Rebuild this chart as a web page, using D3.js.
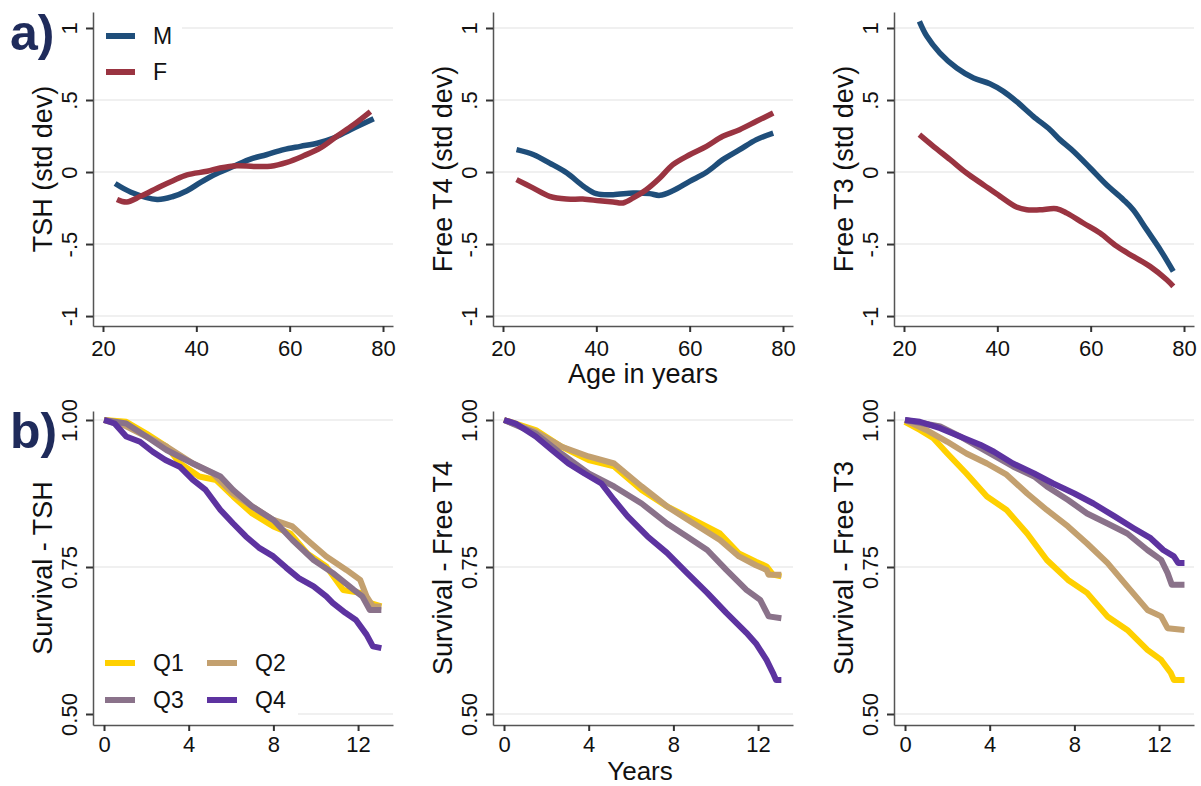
<!DOCTYPE html>
<html lang="en">
<head>
    <meta charset="UTF-8">
    <title>Thyroid function by age and survival</title>
    <script src="https://d3js.org/d3.v7.min.js"></script>
    <style>
        body { margin: 0; background: #fff; }
        svg { display: block; font-family: "Liberation Sans", Arial, Helvetica, sans-serif; }
        .grid line { stroke: #ebebeb; stroke-width: 1.5px; }
        .axis path { stroke: #555; stroke-width: 1.5px; }
        .axis line { stroke: #333; stroke-width: 2px; }
        .axis text { font-size: 22px; fill: #111; }
        .ylab, .xlab { font-size: 27px; fill: #111; }
        .xlab.years { font-size: 26px; }
        .tag { font-size: 50px; font-weight: bold; fill: #1f2b5b; }
        .leg text { font-size: 23px; fill: #111; }
    </style>
</head>
<body>
    <div id="chart"></div>
    <script>
        // ---- data ----
        const sexes = ["M", "F"];
        const sexColors = ["#1f4e7a", "#9a3441"];
        const quartiles = ["Q1", "Q2", "Q3", "Q4"];
        const qColors = ["#ffd000", "#c3a06f", "#8a728a", "#5d33a0"];

        const ageTicks = [20, 40, 60, 80];
        const sdTicks = [-1, -0.5, 0, 0.5, 1];
        const sdLabels = ["-1", "-.5", "0", ".5", "1"];
        const yearTicks = [0, 4, 8, 12];
        const survTicks = [0.5, 0.75, 1];
        const survLabels = ["0.50", "0.75", "1.00"];

        const topTitles = ["TSH (std dev)", "Free T4 (std dev)", "Free T3 (std dev)"];
        const bottomTitles = ["Survival - TSH", "Survival - Free T4", "Survival - Free T3"];

        // [age, std dev]
        const tshM = [[22.6,-0.08],[26,-0.14],[31.6,-0.19],[35,-0.17],[38,-0.13],[41,-0.07],[44.4,-0.01],[48,0.04],[51.6,0.09],[55,0.12],[58.7,0.155],[62.3,0.178],[65.9,0.2],[69.4,0.236],[73,0.294],[78,0.37]];
        const tshF = [[23,-0.19],[25.1,-0.208],[28,-0.169],[32.3,-0.1],[35,-0.06],[38,-0.02],[42.3,0.005],[45.1,0.028],[48.7,0.044],[52.3,0.039],[55.9,0.04],[59.4,0.067],[63,0.113],[66.6,0.167],[70.1,0.248],[73.7,0.329],[77.3,0.42]];
        const ft4M = [[22.9,0.155],[26.6,0.12],[30,0.062],[33.7,-0.007],[37.3,-0.1],[40,-0.15],[43.6,-0.157],[47.9,-0.146],[51.4,-0.15],[53.6,-0.162],[56.4,-0.13],[60,-0.065],[63.6,-0.002],[67.1,0.086],[70.7,0.155],[74.3,0.225],[77.9,0.27]];
        const ft4F = [[22.9,-0.053],[26.4,-0.11],[30,-0.169],[33.6,-0.188],[37.1,-0.188],[40.7,-0.2],[43.6,-0.208],[45.7,-0.215],[47.9,-0.18],[50.7,-0.123],[53.6,-0.042],[56.4,0.051],[60,0.12],[63.6,0.178],[67.1,0.248],[70.7,0.294],[74.3,0.352],[77.9,0.41]];
        const ft3M = [[23.3,1.046],[24.9,0.942],[27.7,0.826],[31.3,0.722],[34.9,0.653],[38.4,0.613],[41.3,0.56],[44.1,0.49],[47.7,0.387],[51.3,0.294],[53.4,0.225],[56.3,0.144],[59.9,0.028],[63.4,-0.088],[67,-0.192],[69.1,-0.262],[72,-0.4],[74.9,-0.539],[77.7,-0.69]];
        const ft3F = [[23.3,0.259],[26.3,0.178],[29.9,0.086],[33.4,-0.007],[37,-0.088],[40.6,-0.169],[44.1,-0.243],[46.3,-0.262],[49.1,-0.262],[52.7,-0.255],[54.9,-0.285],[58.4,-0.354],[62,-0.424],[65.6,-0.516],[69.1,-0.586],[72.7,-0.655],[76.3,-0.748],[77.7,-0.794]];

        // [years, survival]
        const tshQ1 = [[0,1],[1.05,0.997],[2,0.977],[2.95,0.955],[3.6,0.926],[4.5,0.904],[5.3,0.898],[6.1,0.87],[7,0.841],[8,0.819],[8.8,0.807],[9.6,0.773],[10.5,0.751],[11.3,0.711],[12.1,0.706],[12.55,0.689],[13.1,0.683]];
        const tshQ2 = [[0,1],[1,0.99],[2,0.972],[2.95,0.955],[4.2,0.926],[5.15,0.909],[6.1,0.875],[7,0.853],[8,0.83],[8.9,0.819],[9.6,0.796],[10.5,0.768],[11.45,0.745],[12.1,0.728],[12.4,0.7],[12.7,0.683],[13.1,0.683]];
        const tshQ3 = [[0,1],[1.05,0.994],[2,0.972],[2.95,0.949],[4.2,0.926],[5.5,0.904],[6.1,0.881],[7,0.853],[8,0.83],[8.9,0.796],[9.9,0.762],[10.8,0.74],[11.8,0.711],[12.2,0.7],[12.55,0.677],[13.1,0.677]];
        const tshQ4 = [[0,1],[0.5,0.994],[1.05,0.972],[1.7,0.963],[2.3,0.946],[2.9,0.932],[3.6,0.92],[4.2,0.898],[4.8,0.881],[5.5,0.847],[6.1,0.824],[6.7,0.802],[7.35,0.782],[8,0.768],[8.6,0.749],[9.2,0.731],[9.9,0.717],[10.5,0.7],[10.8,0.689],[11.4,0.672],[11.9,0.66],[12.4,0.635],[12.7,0.615],[13.1,0.612]];
        const ft4Q1 = [[0,1],[1.5,0.983],[2.7,0.955],[4,0.932],[5.2,0.921],[6.5,0.881],[7.7,0.853],[8.96,0.83],[10.2,0.807],[11.1,0.773],[11.9,0.759],[12.4,0.751],[12.7,0.737],[13.1,0.734]];
        const ft4Q2 = [[0,1],[1.5,0.98],[2.7,0.955],[4,0.938],[5.2,0.926],[6.5,0.887],[7.7,0.853],[8.96,0.824],[10.2,0.796],[11.1,0.768],[11.9,0.753],[12.4,0.745],[12.5,0.737],[13.1,0.737]];
        const ft4Q3 = [[0,1],[1.5,0.977],[2.7,0.943],[4,0.909],[5.2,0.887],[6.5,0.858],[7.7,0.824],[8.64,0.802],[9.6,0.779],[10.5,0.745],[11.45,0.711],[12.1,0.694],[12.5,0.666],[13.1,0.663]];
        const ft4Q4 = [[0,1],[0.55,0.994],[1.5,0.972],[2.26,0.949],[3.04,0.926],[3.8,0.909],[4.6,0.892],[5.2,0.864],[5.84,0.836],[6.78,0.802],[7.7,0.774],[8.64,0.74],[9.6,0.706],[10.5,0.672],[11.45,0.638],[11.9,0.62],[12.4,0.592],[12.7,0.57],[12.85,0.558],[13.1,0.558]];
        const ft3Q1 = [[0,0.997],[0.7,0.983],[1.34,0.969],[2,0.943],[2.9,0.909],[3.87,0.87],[4.8,0.847],[5.77,0.807],[6.7,0.762],[7.7,0.728],[8.6,0.706],[9.56,0.666],[10.5,0.643],[11.45,0.609],[12.1,0.592],[12.55,0.57],[12.7,0.558],[13.2,0.558]];
        const ft3Q2 = [[0,1],[1,0.983],[2,0.963],[2.9,0.943],[3.87,0.926],[4.8,0.907],[5.77,0.875],[6.7,0.847],[7.7,0.819],[8.6,0.79],[9.56,0.757],[10.5,0.717],[11.45,0.677],[12.1,0.666],[12.4,0.646],[13.2,0.643]];
        const ft3Q3 = [[0,1],[1.66,0.989],[2.6,0.972],[3.87,0.946],[5.1,0.921],[6.1,0.904],[6.7,0.887],[7.7,0.864],[8.6,0.841],[9.56,0.824],[10.5,0.807],[11.45,0.779],[12.1,0.762],[12.4,0.74],[12.6,0.72],[13.2,0.72]];
        const ft3Q4 = [[0,1],[0.7,0.997],[1.66,0.986],[2.6,0.972],[3.55,0.958],[4.2,0.946],[5.1,0.926],[6.1,0.909],[7,0.892],[8,0.875],[8.9,0.858],[9.9,0.836],[10.8,0.816],[11.6,0.799],[12.2,0.779],[12.7,0.768],[12.9,0.757],[13.2,0.757]];

        const topSeries = [[tshM, tshF], [ft4M, ft4F], [ft3M, ft3F]];
        const bottomSeries = [[tshQ1, tshQ2, tshQ3, tshQ4], [ft4Q1, ft4Q2, ft4Q3, ft4Q4], [ft3Q1, ft3Q2, ft3Q3, ft3Q4]];

        // ---- layout ----
        const width = 1201, height = 786;
        const lefts = [93, 493, 894];
        const panelW = 300;
        const topBox = [12, 326];
        const botBox = [411, 725];

        const svg = d3.select("#chart").append("svg")
            .attr("width", width)
            .attr("height", height);

        function drawPanel(opts) {
            const L = opts.left;
            const x = d3.scaleLinear().domain(opts.xDomain).range([L, L + panelW]);
            const y = d3.scaleLinear().domain(opts.yDomain).range([opts.box[1], opts.box[0]]);
            const g = svg.append("g");

            // gridlines
            g.append("g").attr("class", "grid")
                .selectAll("line").data(opts.yTicks).join("line")
                .attr("x1", L).attr("x2", L + panelW)
                .attr("y1", d => y(d)).attr("y2", d => y(d));

            // legend box hides the gridlines behind it
            if (opts.legend) {
                g.append("rect")
                    .attr("x", L + 1).attr("y", opts.legend.box[0])
                    .attr("width", opts.legend.box[2]).attr("height", opts.legend.box[1])
                    .attr("fill", "#fff");
            }

            // curves
            const line = d3.line().x(d => x(d[0])).y(d => y(d[1])).curve(opts.curve);
            g.append("g").selectAll("path").data(opts.series).join("path")
                .attr("d", line)
                .attr("fill", "none")
                .attr("stroke", (d, i) => opts.colors[i])
                .attr("stroke-width", opts.lineW)
                .attr("stroke-linejoin", "round")
                .attr("stroke-linecap", "butt");

            // axes
            const yAxis = d3.axisLeft(y).tickValues(opts.yTicks)
                .tickFormat((d, i) => opts.yLabels[i]).tickSize(7).tickSizeOuter(0);
            const ya = g.append("g").attr("class", "axis")
                .attr("transform", `translate(${L},0)`).call(yAxis);
            ya.selectAll("text")
                .attr("x", null).attr("dy", null)
                .attr("text-anchor", "middle")
                .attr("transform", "translate(-16,0) rotate(-90)");

            const xAxis = d3.axisBottom(x).tickValues(opts.xTicks)
                .tickFormat(d3.format("d")).tickSize(6).tickSizeOuter(0);
            const xa = g.append("g").attr("class", "axis")
                .attr("transform", `translate(0,${opts.box[1]})`).call(xAxis);
            xa.selectAll("text").attr("y", opts.tickPad).attr("dy", "0.71em");

            // y title
            const cy = (opts.box[0] + opts.box[1]) / 2;
            g.append("text").attr("class", "ylab")
                .attr("text-anchor", "middle")
                .attr("transform", `translate(${L - 41},${cy}) rotate(-90)`)
                .text(opts.yTitle);
            return { x, y };
        }

        for (let p = 0; p < 3; p++) {
            drawPanel({
                left: lefts[p], box: topBox,
                xDomain: [17.86, 82.14], yDomain: [-1.069, 1.111],
                xTicks: ageTicks, yTicks: sdTicks, yLabels: sdLabels,
                series: topSeries[p], colors: sexColors, lineW: 5.5,
                curve: d3.curveCatmullRom.alpha(0.5),
                yTitle: topTitles[p], tickPad: 14,
                legend: p === 0 ? { box: [13, 80, 88] } : null
            });
            drawPanel({
                left: lefts[p], box: botBox,
                xDomain: [-0.52, 13.65], yDomain: [0.4813, 1.0153],
                xTicks: yearTicks, yTicks: survTicks, yLabels: survLabels,
                series: bottomSeries[p], colors: qColors, lineW: 6,
                curve: d3.curveLinear,
                yTitle: bottomTitles[p], tickPad: 11,
                legend: p === 0 ? { box: [640, 80, 204] } : null
            });
        }

        // x titles
        svg.append("text").attr("class", "xlab").attr("text-anchor", "middle")
            .attr("x", 643).attr("y", 383).text("Age in years");
        svg.append("text").attr("class", "xlab years").attr("text-anchor", "middle")
            .attr("x", 640).attr("y", 780).text("Years");

        // panel tags
        svg.append("text").attr("class", "tag").attr("x", 10).attr("y", 50).text("a)");
        svg.append("text").attr("class", "tag").attr("x", 10).attr("y", 448).text("b)");

        // legends
        const legTop = svg.append("g").attr("class", "leg");
        sexes.forEach((s, i) => {
            const yy = 36 + i * 36;
            legTop.append("line").attr("x1", 106).attr("x2", 135).attr("y1", yy).attr("y2", yy)
                .attr("stroke", sexColors[i]).attr("stroke-width", 6);
            legTop.append("text").attr("x", 153).attr("y", yy + 8).text(s);
        });

        const legBot = svg.append("g").attr("class", "leg");
        quartiles.forEach((q, i) => {
            const col = i % 2, row = Math.floor(i / 2);
            const xx = 105 + col * 102, yy = 663 + row * 37;
            legBot.append("line").attr("x1", xx).attr("x2", xx + 30).attr("y1", yy).attr("y2", yy)
                .attr("stroke", qColors[i]).attr("stroke-width", 6);
            legBot.append("text").attr("x", xx + 48).attr("y", yy + 8).text(q);
        });
    </script>
</body>
</html>
